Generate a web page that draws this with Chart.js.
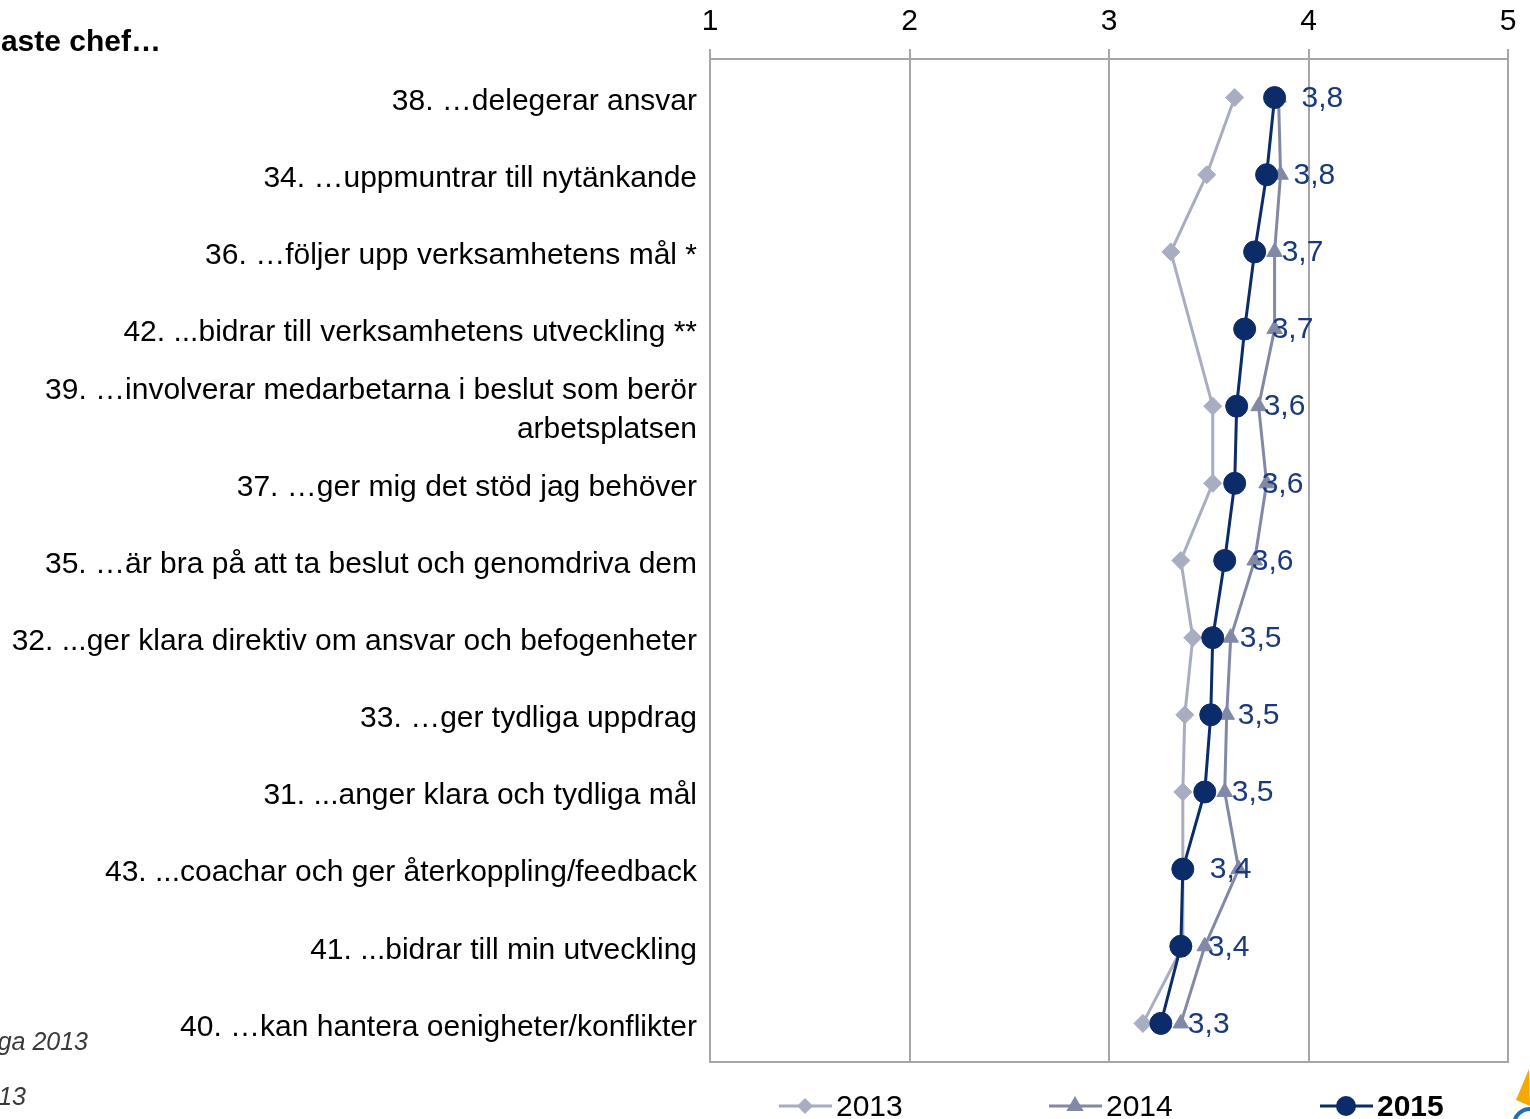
<!DOCTYPE html>
<html>
<head>
<meta charset="utf-8">
<script src="https://cdn.jsdelivr.net/npm/chart.js@4/dist/chart.umd.min.js"></script>
<style>
  html, body { margin: 0; padding: 0; background: #ffffff; }
  #wrap { width: 1530px; height: 1119px; position: relative; overflow: hidden; }
</style>
</head>
<body>
<div id="wrap"><canvas id="chart" width="1530" height="1119"></canvas></div>
<script>
// Survey statements about the nearest manager, top to bottom
const questions = [
  "38. …delegerar ansvar",
  "34. …uppmuntrar till nytänkande",
  "36. …följer upp verksamhetens mål *",
  "42. ...bidrar till verksamhetens utveckling **",
  ["39. …involverar medarbetarna i beslut som berör", "arbetsplatsen"],
  "37. …ger mig det stöd jag behöver",
  "35. …är bra på att ta beslut och genomdriva dem",
  "32. ...ger klara direktiv om ansvar och befogenheter",
  "33. …ger tydliga uppdrag",
  "31. ...anger klara och tydliga mål",
  "43. ...coachar och ger återkoppling/feedback",
  "41. ...bidrar till min utveckling",
  "40. …kan hantera oenigheter/konflikter"
];

// Mean scores (scale 1–5); question 42 was not asked in 2013
const values2013 = [3.63, 3.49, 3.31, null, 3.52, 3.52, 3.36, 3.42, 3.38, 3.37, 3.37, 3.37, 3.17];
const values2014 = [3.85, 3.86, 3.83, 3.83, 3.75, 3.79, 3.73, 3.61, 3.59, 3.58, 3.65, 3.48, 3.36];
const values2015 = [3.83, 3.79, 3.73, 3.68, 3.64, 3.63, 3.58, 3.52, 3.51, 3.48, 3.37, 3.36, 3.26];

const seriesNames = ["2013", "2014", "2015"];
const scaleTicks = [1, 2, 3, 4, 5];

const FONT = "'Liberation Sans', Arial, Helvetica, sans-serif";
const C2013 = "#a8adc1";
const C2014 = "#8189a6";
const C2015 = "#0b2c69";
const LABEL_BLUE = "#1b3a7c";
const GRID = "#a6a6a6";

const fmt = v => (Math.round(v * 10) / 10).toFixed(1).replace(".", ",");

// Frame around the plotting area
const frame = {
  id: "frame",
  beforeDatasetsDraw(chart) {
    const { ctx, chartArea: a } = chart;
    ctx.save();
    ctx.strokeStyle = GRID;
    ctx.lineWidth = 2;
    ctx.strokeRect(a.left, a.top, a.right - a.left, a.bottom - a.top);
    ctx.restore();
  }
};

// Value labels next to the 2015 markers
const valueLabels = {
  id: "valueLabels",
  afterDatasetsDraw(chart) {
    const { ctx } = chart;
    const idx = chart.data.datasets.findIndex(d => d.label === "2015");
    const meta = chart.getDatasetMeta(idx);
    ctx.save();
    ctx.font = "30px " + FONT;
    ctx.fillStyle = LABEL_BLUE;
    ctx.textAlign = "left";
    ctx.textBaseline = "middle";
    meta.data.forEach((pt, i) => {
      const v = chart.data.datasets[idx].data[i];
      if (v == null) return;
      ctx.fillText(fmt(v), pt.x + 27, pt.y + 1);
    });
    ctx.restore();
  }
};

function marker(ctx, style, r, x, y, color) {
  ctx.save();
  ctx.fillStyle = color;
  ctx.beginPath();
  if (style === "circle") {
    ctx.arc(x, y, r, 0, Math.PI * 2);
  } else if (style === "triangle") {
    ctx.moveTo(x, y - r);
    ctx.lineTo(x + r * 0.866, y + r * 0.5);
    ctx.lineTo(x - r * 0.866, y + r * 0.5);
  } else {
    ctx.moveTo(x, y - r);
    ctx.lineTo(x + r, y);
    ctx.lineTo(x, y + r);
    ctx.lineTo(x - r, y);
  }
  ctx.closePath();
  ctx.fill();
  ctx.restore();
}

// Legend row under the plot, with the current year in bold
const bottomLegend = {
  id: "bottomLegend",
  afterDraw(chart) {
    const { ctx } = chart;
    const y = 1106;
    const items = [
      { text: seriesNames[0], x: 779, color: C2013, style: "rectRot", r: 8, bold: false },
      { text: seriesNames[1], x: 1049, color: C2014, style: "triangle", r: 10, bold: false },
      { text: seriesNames[2], x: 1320, color: C2015, style: "circle", r: 10, bold: true }
    ];
    items.forEach(it => {
      ctx.save();
      ctx.strokeStyle = it.color;
      ctx.lineWidth = 3;
      ctx.beginPath();
      ctx.moveTo(it.x, y);
      ctx.lineTo(it.x + 53, y);
      ctx.stroke();
      ctx.restore();
      marker(ctx, it.style, it.r, it.x + 26, y, it.color);
      ctx.save();
      ctx.font = (it.bold ? "bold " : "") + "30px " + FONT;
      ctx.fillStyle = "#000";
      ctx.textAlign = "left";
      ctx.textBaseline = "middle";
      ctx.fillText(it.text, it.x + 57, y + 2);
      ctx.restore();
    });
  }
};

// Heading and footnotes in the left margin, plus the corner emblem
const pageText = {
  id: "pageText",
  afterDraw(chart) {
    const { ctx } = chart;
    ctx.save();
    ctx.fillStyle = "#000";
    ctx.font = "bold 30px " + FONT;
    ctx.textAlign = "right";
    ctx.textBaseline = "middle";
    ctx.fillText("Min närmaste chef…", 161, 43);

    ctx.fillStyle = "#3a3a3a";
    ctx.font = "italic 25px " + FONT;
    ctx.fillText("* Omformulerad fråga 2013", 88, 1043);
    ctx.fillText("** Ingen mätning 2013", 26, 1098);

    // emblem: sail and wave
    ctx.fillStyle = "#f5a800";
    ctx.beginPath();
    ctx.moveTo(1529, 1069);
    ctx.lineTo(1530, 1106);
    ctx.lineTo(1516, 1100);
    ctx.closePath();
    ctx.fill();
    ctx.strokeStyle = "#1e6fb8";
    ctx.lineWidth = 4;
    ctx.beginPath();
    ctx.arc(1530, 1125, 16, Math.PI * 1.05, Math.PI * 1.5);
    ctx.stroke();
    ctx.restore();
  }
};

const ctxEl = document.getElementById("chart");
new Chart(ctxEl, {
  type: "line",
  data: {
    labels: questions,
    datasets: [
      {
        label: seriesNames[2],
        data: values2015,
        borderColor: C2015,
        backgroundColor: C2015,
        borderWidth: 3,
        pointStyle: "circle",
        pointRadius: 11,
        pointBackgroundColor: C2015,
        pointBorderColor: C2015,
        pointBorderWidth: 1,
        order: 0
      },
      {
        label: seriesNames[1],
        data: values2014,
        borderColor: C2014,
        backgroundColor: C2014,
        borderWidth: 3,
        pointStyle: "triangle",
        pointRadius: 9,
        pointBackgroundColor: C2014,
        pointBorderColor: C2014,
        pointBorderWidth: 1,
        order: 1
      },
      {
        label: seriesNames[0],
        data: values2013,
        borderColor: C2013,
        backgroundColor: C2013,
        borderWidth: 3,
        pointStyle: "rectRot",
        pointRadius: 9,
        pointBackgroundColor: C2013,
        pointBorderColor: C2013,
        pointBorderWidth: 1,
        spanGaps: true,
        order: 2
      }
    ]
  },
  options: {
    indexAxis: "y",
    responsive: false,
    devicePixelRatio: 1,
    animation: false,
    layout: { padding: { left: 0, right: 22, top: 0, bottom: 57 } },
    elements: { line: { tension: 0 } },
    plugins: {
      legend: { display: false },
      tooltip: { enabled: false },
      title: { display: false }
    },
    scales: {
      x: {
        type: "linear",
        position: "top",
        min: 1,
        max: 5,
        afterBuildTicks(s) { s.ticks = scaleTicks.map(v => ({ value: v })); },
        afterFit(s) { s.height = 59; },
        ticks: {
          color: "#000",
          font: { family: FONT, size: 30 },
          padding: 9,
          maxRotation: 0
        },
        grid: { color: GRID, lineWidth: 2, tickLength: 10, drawTicks: true },
        border: { display: true, color: GRID, width: 2 }
      },
      y: {
        type: "category",
        position: "left",
        offset: true,
        afterFit(s) { s.width = 710; },
        ticks: {
          color: "#000",
          font: { family: FONT, size: 30, lineHeight: 1.3 },
          padding: 13,
          labelOffset: 4,
          autoSkip: false
        },
        grid: { display: false, drawTicks: false },
        border: { display: false }
      }
    }
  },
  plugins: [frame, valueLabels, bottomLegend, pageText]
});
</script>
</body>
</html>
